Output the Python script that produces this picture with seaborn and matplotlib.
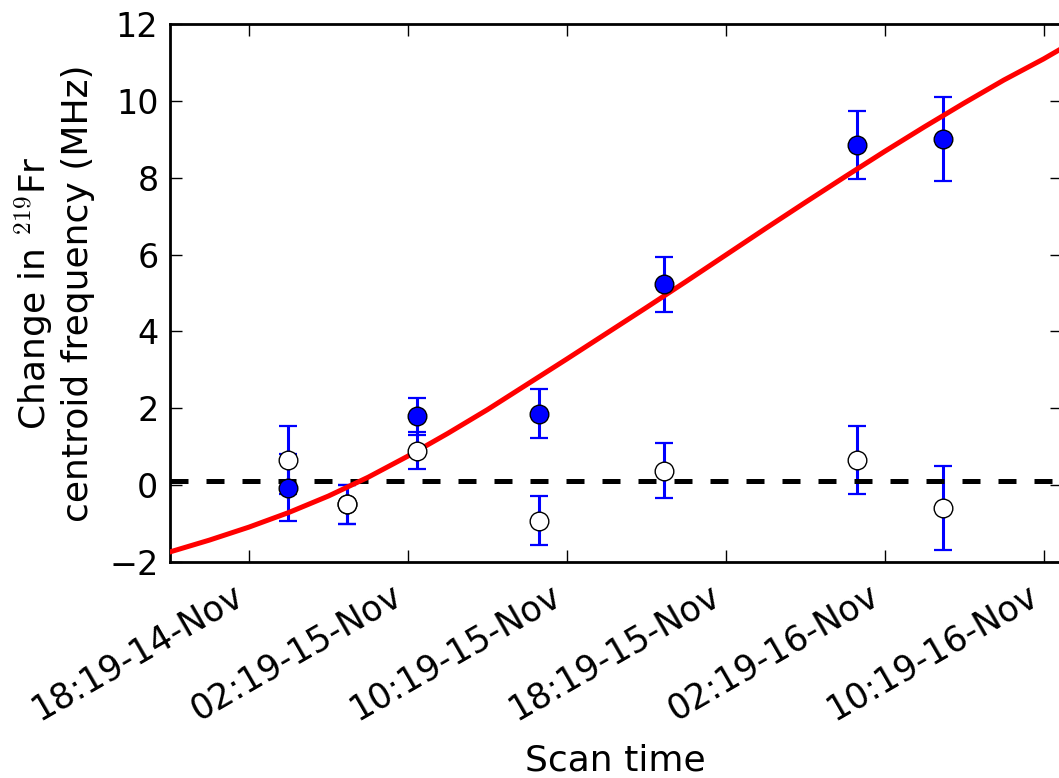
import pandas as pd
import numpy as np
import matplotlib
matplotlib.use('Agg')
import matplotlib.pyplot as plt
import matplotlib.dates as mdates
import seaborn as sns

# scan times and change in centroid frequency (MHz)
scan_time = ['2016-11-14 20:18', '2016-11-14 23:14', '2016-11-15 02:47', '2016-11-15 08:56',
             '2016-11-15 15:13', '2016-11-16 00:57', '2016-11-16 05:15']
shift_fill = [-0.07, -0.50, 1.79, 1.86, 5.23, 8.86, 9.01]
err_fill = [0.87, 0.51, 0.48, 0.64, 0.72, 0.88, 1.10]
shift_open = [0.65, -0.50, 0.89, -0.93, 0.37, 0.65, -0.60]
err_open = [0.88, 0.51, 0.48, 0.63, 0.72, 0.88, 1.10]

# fitted curve, every 2 hours
fit_time = ['2016-11-14 14:19', '2016-11-14 16:19', '2016-11-14 18:19', '2016-11-14 20:19',
            '2016-11-14 22:19', '2016-11-15 00:19', '2016-11-15 02:19', '2016-11-15 04:19',
            '2016-11-15 06:19', '2016-11-15 08:19', '2016-11-15 10:19', '2016-11-15 12:19',
            '2016-11-15 14:19', '2016-11-15 16:19', '2016-11-15 18:19', '2016-11-15 20:19',
            '2016-11-15 22:19', '2016-11-16 00:19', '2016-11-16 02:19', '2016-11-16 04:19',
            '2016-11-16 06:19', '2016-11-16 08:19', '2016-11-16 10:19', '2016-11-16 11:19']
fit_val = [-1.75, -1.44, -1.10, -0.72, -0.29, 0.20, 0.75, 1.34,
           1.96, 2.62, 3.28, 3.95, 4.62, 5.30, 5.99, 6.68,
           7.36, 8.03, 8.69, 9.33, 9.95, 10.55, 11.10, 11.40]

baseline = 0.1
tick_time = ['2016-11-14 18:19', '2016-11-15 02:19', '2016-11-15 10:19',
             '2016-11-15 18:19', '2016-11-16 02:19', '2016-11-16 10:19']
x_range = ['2016-11-14 14:19', '2016-11-16 11:15']

df = pd.DataFrame({'t': pd.to_datetime(scan_time), 'fill': shift_fill, 'efill': err_fill,
                   'open': shift_open, 'eopen': err_open})
fit = pd.DataFrame({'t': pd.to_datetime(fit_time), 'v': fit_val})

sns.set_theme(style='ticks')
plt.rcParams['font.family'] = ['DejaVu Sans']
plt.rcParams['mathtext.fontset'] = 'cm'
for k in ['text.color', 'axes.labelcolor', 'xtick.color', 'ytick.color', 'axes.edgecolor']:
    plt.rcParams[k] = 'black'

fig = plt.figure(figsize=(10.59, 7.78), dpi=100)
ax = fig.add_axes([0.1601, 0.2781, 0.8428, 0.6905])

#==============error bars=================
ax.errorbar(df['t'], df['fill'], yerr=df['efill'], fmt='none', ecolor='blue',
            elinewidth=2.2, capsize=6.7, capthick=1.6, zorder=2)
ax.errorbar(df['t'], df['open'], yerr=df['eopen'], fmt='none', ecolor='blue',
            elinewidth=2.2, capsize=6.7, capthick=1.6, zorder=2)

ax.axhline(baseline, color='black', lw=3.6, ls=(0, (3.6, 3.6)), zorder=3)
sns.lineplot(data=fit, x='t', y='v', color='red', lw=3.6, ax=ax, zorder=4)

sns.scatterplot(data=df, x='t', y='fill', color='blue', edgecolor='black', linewidth=1,
                s=180, ax=ax, zorder=5)
sns.scatterplot(data=df, x='t', y='open', color='white', edgecolor='black', linewidth=1,
                s=180, ax=ax, zorder=5)

ax.set_xlim(pd.to_datetime(x_range[0]), pd.to_datetime(x_range[1]))
ax.set_ylim(-2, 12)
ax.set_yticks(np.arange(-2, 13, 2))
ax.set_xticks(pd.to_datetime(tick_time))
ax.xaxis.set_major_formatter(mdates.DateFormatter('%H:%M-%d-%b'))
ax.tick_params(direction='in', length=8.6, width=1, top=True, right=True)
ax.tick_params(axis='x', pad=12, labelsize=25)
ax.tick_params(axis='y', pad=8, labelsize=24)
plt.setp(ax.get_xticklabels(), rotation=30, ha='right')
for s in ax.spines.values():
    s.set_linewidth(2)

ax.set_xlabel('Scan time', fontsize=26)
ax.set_ylabel('Change in $^{219}$Fr\ncentroid frequency (MHz)', fontsize=26)
ax.xaxis.set_label_coords(0.5, -0.338)
ax.yaxis.set_label_coords(-0.084, 0.5)

fig.savefig('out.png', dpi=100)
